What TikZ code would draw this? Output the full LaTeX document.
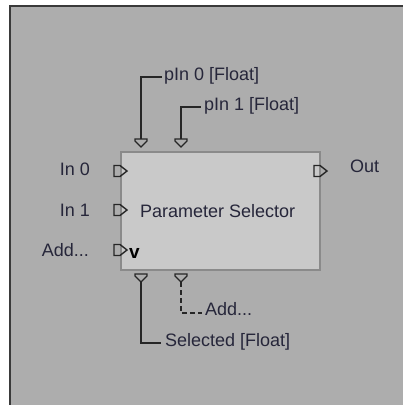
\documentclass[tikz,border=0pt]{standalone}
\usepackage{fontspec}
\setmainfont{Liberation Sans}
\definecolor{bg}{HTML}{ADADAD}
\definecolor{frameline}{HTML}{3A3A3A}
\definecolor{boxfill}{HTML}{C9C9C9}
\definecolor{boxline}{HTML}{8A8A8A}
\definecolor{txt}{HTML}{26263A}
\begin{document}
\begin{tikzpicture}[x=1pt,y=-1pt,
  lbl/.style={inner sep=0pt,text=txt,font=\fontsize{18}{20}\selectfont},
  conn/.style={line width=2pt,draw=black!85},
  dconn/.style={conn,dash pattern=on 5pt off 3pt},
  portline/.style={line width=1.4pt,draw=black!85},
  rport/.pic={\draw[portline] (-7,-5.5) -- (-1,-5.5) -- (6,0) -- (-1,5.5) -- (-7,5.5) -- cycle;},
  dport/.pic={\draw[portline] (-6,-4) -- (6,-4) -- (6,-2) -- (0,4) -- (-6,-2) -- cycle;}]
\useasboundingbox (0,0) rectangle (403,405);
\clip (0,0) rectangle (403,405);
\fill[white] (0,0) rectangle (403,405);
\draw[fill=bg,draw=frameline,line width=2pt] (10,6) rectangle (430,430);
% main block
\node[draw=boxline,fill=boxfill,line width=1.6pt,minimum width=199pt,minimum height=118pt,inner sep=0pt,anchor=north west] (blk) at (120,151) {};
\node[lbl,anchor=base west] (title) at (140,217) {Parameter Selector};
\node[lbl,text=black,font=\fontsize{19}{20}\selectfont\bfseries,anchor=base west] (vmark) at (129,258) {v};
% ports
\coordinate (pin0) at (141,143);
\coordinate (pin1) at (181,143);
\coordinate (sel) at (141,278);
\coordinate (addb) at (181,278);
\coordinate (in0) at (121,171);
\coordinate (in1) at (121,210);
\coordinate (addl) at (121,250);
\coordinate (out) at (321,171);
\pic at (pin0) {dport};
\pic at (pin1) {dport};
\pic at (sel) {dport};
\pic at (addb) {dport};
\pic at (in0) {rport};
\pic at (in1) {rport};
\pic at (addl) {rport};
\pic at (out) {rport};
% labels
\node[lbl,anchor=base east] (lin0) at (90,175) {In 0};
\node[lbl,anchor=base east] (lin1) at (90,216) {In 1};
\node[lbl,anchor=base east] (ladd) at (89,256) {Add...};
\node[lbl,anchor=base west] (lout) at (350,172) {Out};
\node[lbl,anchor=base west] (lp0) at (164,80) {pIn 0 [Float]};
\node[lbl,anchor=base west] (lp1) at (204,110) {pIn 1 [Float]};
\node[lbl,anchor=base west] (lsel) at (165,346) {Selected [Float]};
\node[lbl,anchor=base west] (laddb) at (205,315) {Add...};
% connectors
\draw[conn] ([yshift=4pt]pin0) |- ([xshift=-2pt,yshift=3pt]lp0.base west);
\draw[conn] ([yshift=4pt]pin1) |- ([xshift=-3pt,yshift=3pt]lp1.base west);
\draw[conn] ([yshift=-4pt]sel) |- ([xshift=-4pt,yshift=3pt]lsel.base west);
\draw[dconn] ([yshift=-4pt]addb) |- ([xshift=-3pt,yshift=2pt]laddb.base west);
\end{tikzpicture}
\end{document}
